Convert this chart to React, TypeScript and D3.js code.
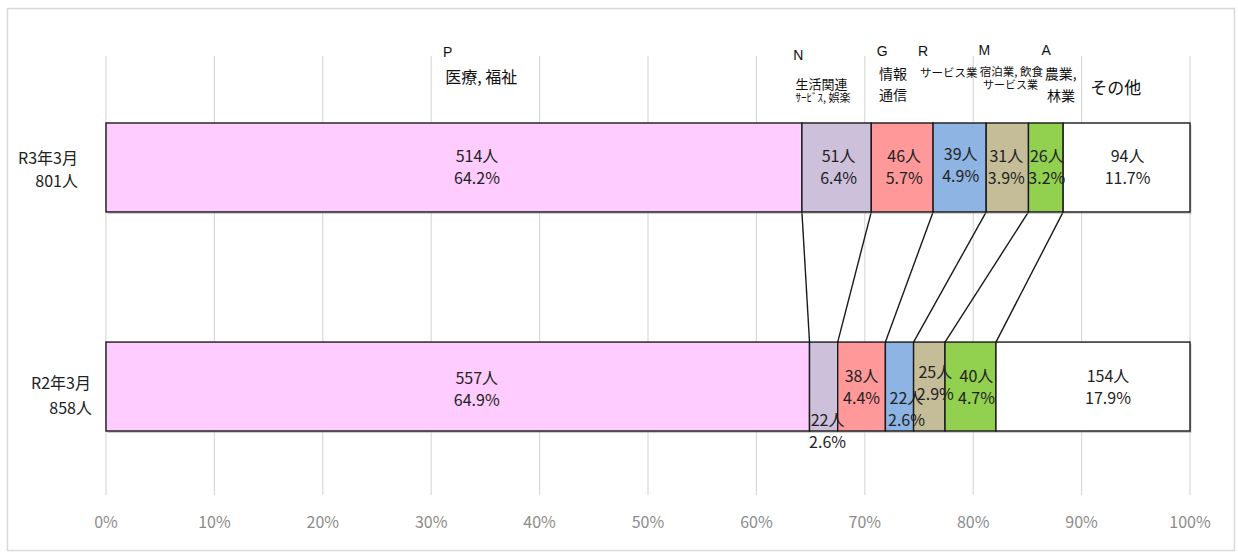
import * as d3 from "d3";

const categories = ["R3年3月", "R2年3月"];
const totals = [801, 858];
const industries = ["医療, 福祉", "生活関連サービス, 娯楽", "情報通信", "サービス業", "宿泊業, 飲食サービス業", "農業, 林業", "その他"];
const countsR3 = [514, 51, 46, 39, 31, 26, 94];
const countsR2 = [557, 22, 38, 22, 25, 40, 154];
const pctR3 = [64.2, 6.4, 5.7, 4.9, 3.9, 3.2, 11.7];
const pctR2 = [64.9, 2.6, 4.4, 2.6, 2.9, 4.7, 17.9];
const tickValues = [0, 10, 20, 30, 40, 50, 60, 70, 80, 90, 100];

const colors = ["#FFCCFF", "#CCC0DA", "#FF9999", "#8DB4E2", "#C4BD97", "#92D050", "#FFFFFF"];

// label nudges (px) relative to segment centre, per row
const labelNudge = [
  [[23, -9.5], [2, -9.5], [2, -9.5], [1, -12], [-1, -9.5], [1, -9.5], [1, -9.5]],
  [[19, -6.5], [4, 35.5], [0, -8.5], [7, 13.5], [6, -12.5], [6, -8.5], [15, -8.5]],
];

// header annotations: [pct position, y, text, font size, family]
const letterFont = "'Liberation Sans', Arial, sans-serif";
const jpFont = "'Noto Sans CJK JP', sans-serif";
const headers: [number, number, string, number, string][] = [
  [31.1, 53, "P", 14, letterFont],
  [31.3, 79, "医療, 福祉", 16, jpFont],
  [63.4, 56, "N", 14, letterFont],
  [63.6, 85, "生活関連", 13, jpFont],
  [63.6, 99, "ｻｰﾋﾞｽ, 娯楽", 11, jpFont],
  [71.1, 52, "G", 14, letterFont],
  [71.3, 75, "情報", 14, jpFont],
  [71.3, 96, "通信", 14, jpFont],
  [74.9, 52, "R", 14, letterFont],
  [75.1, 74, "サービス業", 11.5, jpFont],
  [80.5, 51, "M", 14, letterFont],
  [80.6, 73, "宿泊業, 飲食", 11.5, jpFont],
  [80.9, 86, "サービス業", 11, jpFont],
  [86.3, 51, "A", 14, letterFont],
  [86.6, 75, "農業,", 14, jpFont],
  [86.8, 97, "林業", 14, jpFont],
  [90.8, 89, "その他", 17, jpFont],
];

export default function App() {
  const width = 1238;
  const height = 559;
  const x = d3.scaleLinear().domain([0, 100]).range([106, 1190]);
  const y = d3.scaleBand<string>().domain(categories).range([123, 431]).paddingInner(0.594).paddingOuter(0);
  const bw = y.bandwidth();

  const rows = [
    { cat: categories[0], total: totals[0], counts: countsR3, pct: pctR3 },
    { cat: categories[1], total: totals[1], counts: countsR2, pct: pctR2 },
  ];

  const stacked = rows.map((r) => {
    let acc = 0;
    return r.pct.map((p, i) => {
      const start = acc;
      acc += p;
      return { start, end: acc, p, count: r.counts[i], name: industries[i], i };
    });
  });

  const y0 = y(categories[0]) as number;
  const y1 = y(categories[1]) as number;

  return (
    <svg width={width} height={height} style={{ position: "absolute", left: 0, top: 0 }} fontFamily={jpFont}>
      <rect x={0} y={0} width={width} height={height} fill="#fff" />
      <rect x={7.5} y={8.5} width={1227} height={542} fill="none" stroke="#d9d9d9" strokeWidth={1.5} />

      {tickValues.map((t) => (
        <g key={t}>
          <line x1={x(t)} x2={x(t)} y1={56} y2={495} stroke="#d9d9d9" strokeWidth={1.2} />
          <text x={x(t)} y={524} textAnchor="middle" dominantBaseline="middle" fontSize={16} fill="#8c8c8c">
            {t}%
          </text>
        </g>
      ))}

      {/* connector lines */}
      {stacked[0].slice(0, 6).map((s, i) => (
        <line
          key={"c" + i}
          x1={x(s.end)}
          y1={y0 + bw}
          x2={x(stacked[1][i].end)}
          y2={y1}
          stroke="#1a1a1a"
          strokeWidth={1.4}
        />
      ))}

      {rows.map((r, ri) => {
        const by = y(r.cat) as number;
        return (
          <g key={r.cat}>
            <rect x={x(0) + 1.5} y={by + 2} width={x(100) - x(0)} height={bw} fill="#9a9a9a" opacity={0.5} />
            {stacked[ri].map((s) => (
              <rect
                key={s.i}
                x={x(s.start)}
                y={by}
                width={x(s.end) - x(s.start)}
                height={bw}
                fill={colors[s.i]}
                stroke="#1a1a1a"
                strokeWidth={1.4}
              />
            ))}
          </g>
        );
      })}

      {rows.map((r, ri) => {
        const cy = (y(r.cat) as number) + bw / 2;
        return stacked[ri].map((s) => {
          const [dx, dy] = labelNudge[ri][s.i];
          const cx = x((s.start + s.end) / 2) + dx;
          return (
            <text key={r.cat + s.i} x={cx} textAnchor="middle" fontSize={16} fill="#222">
              <tspan x={cx} y={cy + dy} dominantBaseline="middle">{s.count}人</tspan>
              <tspan x={cx} y={cy + dy + 22} dominantBaseline="middle">{s.p.toFixed(1)}%</tspan>
            </text>
          );
        });
      })}

      {/* category labels */}
      <text x={78} y={160} textAnchor="end" dominantBaseline="middle" fontSize={16} fill="#222">{categories[0]}</text>
      <text x={78} y={183} textAnchor="end" dominantBaseline="middle" fontSize={16} fill="#222">{totals[0]}人</text>
      <text x={91} y={385} textAnchor="end" dominantBaseline="middle" fontSize={16} fill="#222">{categories[1]}</text>
      <text x={92} y={410} textAnchor="end" dominantBaseline="middle" fontSize={16} fill="#222">{totals[1]}人</text>

      {headers.map(([p, hy, txt, fs, ff], i) => (
        <text key={"h" + i} x={x(p)} y={hy} dominantBaseline="middle" fontSize={fs} fontFamily={ff} fill="#111">
          {txt}
        </text>
      ))}
    </svg>
  );
}
